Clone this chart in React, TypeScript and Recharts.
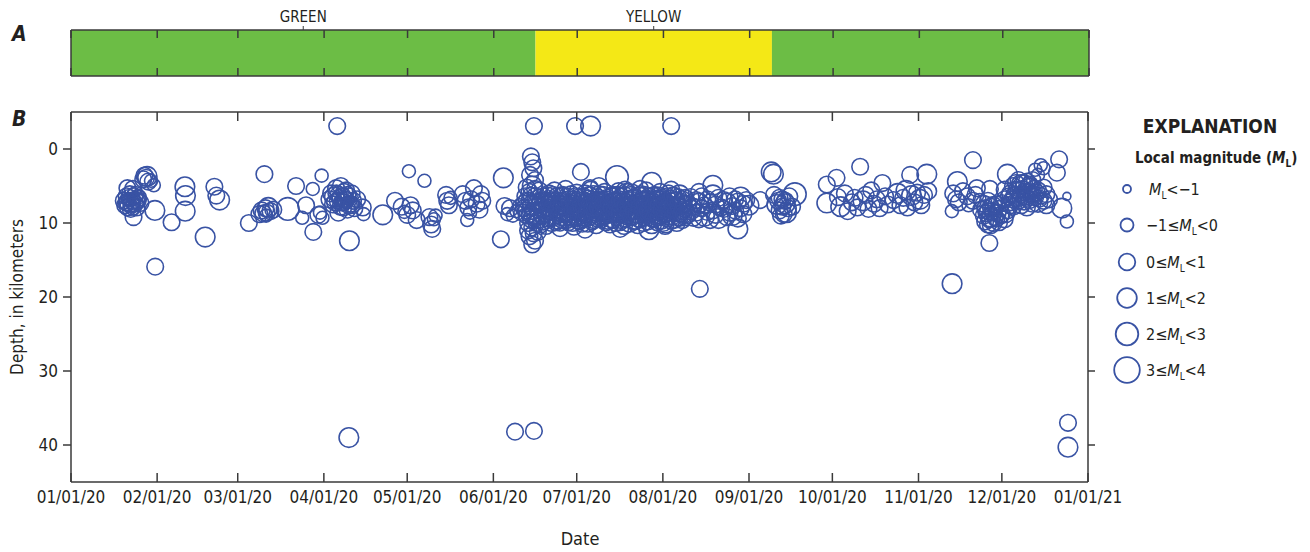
import React from 'react';
import { ScatterChart, Scatter, BarChart, Bar, XAxis, YAxis, ReferenceLine, LabelList } from 'recharts';

// x axis: day of year 2020 (0 = 01/01/20, 366 = 01/01/21)
const monthTicks = [0, 31, 60, 91, 121, 152, 182, 213, 244, 274, 305, 335, 366];
const monthLabels = ['01/01/20', '02/01/20', '03/01/20', '04/01/20', '05/01/20', '06/01/20', '07/01/20', '08/01/20', '09/01/20', '10/01/20', '11/01/20', '12/01/20', '01/01/21'];
const depthTicks = [0, 10, 20, 30, 40];

// volcano alert level periods
const alertLevels = ['GREEN', 'YELLOW', 'GREEN'];
const alertStart = [0, 167, 252];
const alertEnd = [167, 252, 366];
const alertLabelled = [true, true, false];

// magnitude classes for the explanation
const magLower = ['', '\u22121\u2264', '0\u2264', '1\u2264', '2\u2264', '3\u2264'];
const magUpper = ['<\u22121', '<0', '<1', '<2', '<3', '<4'];

// earthquakes: [day of year, depth km, magnitude class]
const eventsJanMar = [
  [19, 7.0, 2], [19.5, 7.6, 2], [20, 6.4, 2], [20.3, 5.3, 2], [20.5, 7.9, 2], [21, 7.2, 3], [21.2, 6.1, 2], [21.5, 8.1, 2],
  [22, 7.0, 2], [22.3, 5.4, 2], [22.5, 6.7, 1], [22.5, 9.2, 2], [23, 7.4, 2], [23.2, 6.2, 2], [23.6, 7.9, 2], [24, 7.0, 2],
  [24.5, 6.5, 1], [25, 7.3, 2], [26, 4.1, 2], [26.4, 3.6, 2], [27, 3.9, 2], [27.4, 3.7, 3], [27.8, 4.4, 2], [28.8, 4.3, 1],
  [20, 7.2, 2], [21, 6.6, 2], [21.8, 7.5, 2], [22.8, 6.4, 2], [23.5, 7.0, 2], [20.8, 6.9, 1], [22.2, 7.8, 2], [24.2, 6.6, 2],
  [29.8, 4.9, 1], [30.2, 8.3, 3], [30.3, 15.9, 2], [36.2, 9.9, 2], [41, 5.1, 3], [41.2, 6.3, 3], [41.1, 8.4, 3], [48.3, 11.9, 3],
  [51.6, 5.1, 2], [52.3, 6.3, 2], [53.5, 6.9, 3], [64, 10.0, 2], [67.8, 8.8, 2], [68.6, 8.3, 2], [69.2, 8.7, 2], [69.6, 3.4, 2],
  [70, 8.0, 2], [70.4, 8.6, 2], [71, 7.9, 3], [71.8, 8.4, 2], [72.8, 8.2, 2], [70.2, 9.0, 1], [78, 8.1, 4], [81, 5.0, 2],
  [83.2, 9.3, 1], [84.6, 7.6, 2], [87, 5.4, 1], [87.2, 11.2, 2], [89, 8.9, 2], [89.6, 8.6, 1], [90.5, 9.3, 1], [90.2, 3.6, 1],
];

const eventsAprMay = [
  [93, 6.8, 2], [93.6, 6.0, 2], [94.3, 7.5, 2], [94.8, 6.5, 3], [95.4, 5.3, 2], [96, 7.0, 2], [96.3, 6.2, 2], [97, 7.8, 2],
  [97.5, 6.6, 3], [98, 7.2, 2], [98.4, 5.8, 2], [99, 6.9, 2], [99.5, 8.2, 2], [100, 6.4, 2], [100.5, 7.4, 2], [101, 6.0, 2],
  [101.5, 7.0, 2], [102, 8.0, 2], [96.2, 8.6, 2], [97.1, 5.0, 2], [103, 6.8, 2], [95.8, -3.1, 2], [100.2, 12.4, 3],
  [95, 7.2, 2], [96.8, 6.6, 2], [98.5, 6.8, 2], [99.5, 6.2, 2], [98, 7.9, 2], [97.5, 7.2, 2], [100, 7.6, 2], [95.5, 6.0, 2],
  [101, 7.6, 2], [99, 5.6, 2],
  [105, 7.9, 2], [105.3, 8.8, 1], [112.2, 8.9, 3], [116.6, 7.0, 2], [121.6, 3.0, 1], [119, 7.8, 2], [120, 8.5, 1], [121, 8.9, 2],
  [122.2, 7.6, 2], [123, 8.3, 2], [124.4, 9.6, 2], [127.2, 4.3, 1], [129, 9.2, 2], [129.6, 10.2, 2], [130, 10.8, 2], [130.6, 9.5, 1],
  [131.2, 9.0, 1], [135, 6.2, 2], [135.4, 7.0, 2], [136, 7.6, 2], [136.6, 6.6, 1], [141, 6.1, 2], [142, 7.0, 2], [142.6, 9.6, 1],
  [143, 7.9, 2], [143.6, 8.6, 1], [144, 6.8, 2], [145, 5.3, 2], [146, 7.4, 2], [147, 8.2, 2], [148, 7.0, 2], [147.5, 6.1, 2],
];

const eventsJune = [
  [154.7, 12.2, 2], [155.6, 3.9, 3], [156, 7.7, 2], [157, 8.8, 1], [158, 8.0, 2], [159, 9.0, 1], [160.3, 8.4, 1], [161.5, 7.6, 1],
  [165.5, 1.0, 2], [166, 1.8, 2], [166.4, 2.6, 2], [165.2, 3.5, 2], [167, 4.2, 2], [166, 5.0, 3], [165, 5.8, 2], [167, 6.4, 2],
  [164, 7.0, 2], [166, 7.6, 3], [168, 8.2, 2], [165, 8.8, 2], [167, 9.4, 2], [164.5, 10.0, 2], [166, 10.6, 2], [168, 11.2, 2],
  [165, 11.8, 2], [167, 12.4, 2], [164, 9.0, 2], [163, 8.0, 2], [162.4, 8.6, 2], [169, 7.0, 2], [169.5, 9.0, 2], [169, 10.2, 2],
  [168.5, 5.6, 2], [163.5, 6.4, 2], [166.6, -3.1, 2],
  [163, 7.4, 2], [164, 8.3, 2], [165, 7.0, 2], [165.5, 9.5, 2], [166.5, 8.4, 2], [167.5, 7.2, 2], [167.5, 10.0, 2], [166.5, 11.4, 2],
  [164.5, 11.0, 2], [165.5, 6.3, 2], [167, 5.4, 2], [168, 9.6, 2], [168.5, 7.6, 2], [166, 9.0, 2], [164, 5.2, 2], [168.5, 6.6, 2],
  [166, 12.9, 2], [169.5, 8.2, 2],
];

const eventsJulAug = [
  [170, 6.4, 2], [170, 8.1, 2], [170, 9.6, 3], [171, 7.2, 2], [171, 8.8, 2], [171, 10.4, 2], [172, 6.0, 2], [172, 7.7, 3], [172, 9.2, 2],
  [173, 6.9, 2], [173, 8.4, 1], [173, 10.0, 2], [174, 5.6, 2], [174, 7.4, 2], [174, 9.0, 2], [175, 6.6, 3], [175, 8.2, 2], [175, 9.7, 2],
  [176, 7.0, 2], [176, 8.7, 2], [176, 10.2, 1], [177, 6.2, 2], [177, 7.9, 2], [177, 9.4, 3], [178, 5.4, 2], [178, 7.3, 2], [178, 8.9, 2],
  [179, 6.8, 2], [179, 8.5, 3], [179, 9.9, 2], [180, 6.1, 2], [180, 7.6, 2], [180, 9.3, 2], [181, 7.1, 1], [181, 8.9, 2], [181, 10.5, 2],
  [182, 5.9, 2], [182, 7.5, 2], [182, 9.1, 3], [183, 6.5, 2], [183, 8.2, 2], [183, 9.8, 2], [184, 7.2, 3], [184, 8.7, 2], [184, 10.1, 2],
  [185, 6.0, 2], [185, 7.8, 1], [185, 9.3, 2], [186, 6.7, 2], [186, 8.4, 2], [186, 9.9, 3], [187, 5.5, 2], [187, 7.2, 2], [187, 8.9, 2],
  [188, 6.3, 3], [188, 8.0, 2], [188, 9.6, 2], [189, 7.0, 2], [189, 8.6, 2], [189, 10.3, 2], [190, 6.1, 2], [190, 7.7, 3], [190, 9.2, 2],
  [191, 6.8, 2], [191, 8.3, 2], [191, 9.8, 1], [192, 5.8, 2], [192, 7.4, 2], [192, 9.0, 2], [193, 6.6, 2], [193, 8.1, 3], [193, 9.7, 2],
  [194, 7.1, 2], [194, 8.8, 2], [194, 10.2, 2], [195, 6.2, 2], [195, 7.9, 2], [195, 9.4, 3], [196, 6.9, 2], [196, 8.5, 2], [196, 10.0, 2],
  [197, 5.7, 2], [197, 7.3, 3], [197, 8.8, 2], [198, 6.4, 2], [198, 8.0, 2], [198, 9.6, 2], [199, 7.0, 2], [199, 8.7, 1], [199, 10.4, 2],
  [200, 6.0, 3], [200, 7.6, 2], [200, 9.1, 2], [201, 6.7, 2], [201, 8.3, 2], [201, 9.9, 3], [202, 5.9, 2], [202, 7.5, 2], [202, 9.2, 2],
  [203, 6.5, 2], [203, 8.2, 3], [203, 9.7, 2], [204, 7.2, 2], [204, 8.9, 2], [204, 10.3, 2], [205, 6.1, 2], [205, 7.7, 2], [205, 9.3, 3],
  [206, 6.8, 2], [206, 8.4, 2], [206, 10.0, 2], [207, 5.6, 2], [207, 7.2, 3], [207, 8.8, 2], [208, 6.4, 2], [208, 8.0, 2], [208, 9.5, 1],
  [209, 7.0, 2], [209, 8.6, 2], [209, 10.1, 3], [210, 6.2, 2], [210, 7.8, 2], [210, 9.4, 2], [211, 6.9, 3], [211, 8.5, 2], [211, 9.9, 2],
  [212, 5.8, 2], [212, 7.4, 2], [212, 9.0, 2], [213, 6.6, 2], [213, 8.2, 2], [213, 9.8, 3], [214, 7.1, 2], [214, 8.7, 2], [214, 10.2, 2],
  [215, 6.0, 2], [215, 7.6, 3], [215, 9.1, 2], [216, 6.7, 2], [216, 8.3, 2], [216, 9.7, 2], [217, 6.3, 2], [217, 7.9, 2], [217, 9.4, 3],
  [218, 6.9, 2], [218, 8.5, 2], [218, 10.0, 2], [219, 6.2, 3], [219, 7.8, 2], [219, 9.3, 2], [220, 6.8, 2], [220, 8.4, 2], [220, 9.6, 2],
  [221, 6.6, 2], [221, 8.1, 2], [221, 9.2, 2],
  [181.4, -3.1, 2], [187, -3.1, 3], [216, -3.1, 2], [183.5, 3.1, 2], [196.5, 3.8, 4], [209, 4.5, 3], [216, 5.5, 2], [186.8, 5.3, 2],
  [190, 5.0, 2], [199.4, 5.5, 2], [204.8, 5.4, 2], [176, 10.7, 2], [185, 10.9, 2], [197.6, 10.8, 2], [208, 10.9, 3], [213.8, 10.4, 2],
];

// the densest part of the swarm, between the daily rows above
const eventsSwarmDense = [
  [170.5, 7.0, 2], [170.5, 8.8, 2], [171.5, 6.3, 2], [171.5, 7.9, 2], [171.5, 9.4, 2], [172.5, 7.1, 2], [172.5, 8.5, 2], [173.5, 6.2, 2],
  [173.5, 7.6, 2], [173.5, 9.3, 2], [174.5, 6.9, 2], [174.5, 8.3, 2], [174.5, 9.9, 2], [175.5, 7.4, 2], [175.5, 8.9, 2], [176.5, 6.3, 2],
  [176.5, 7.8, 2], [176.5, 9.2, 2], [177.5, 7.0, 2], [177.5, 8.6, 2], [178.5, 6.4, 2], [178.5, 8.1, 2], [178.5, 9.6, 2], [179.5, 7.3, 2],
  [179.5, 9.1, 2], [180.5, 6.8, 2], [180.5, 8.3, 2], [180.5, 10.0, 2], [181.5, 6.4, 2], [181.5, 8.0, 2], [182.5, 6.9, 2], [182.5, 8.6, 2],
  [182.5, 9.7, 2], [183.5, 7.4, 2], [183.5, 9.0, 2], [184.5, 6.4, 2], [184.5, 7.9, 2], [184.5, 9.5, 2], [185.5, 7.1, 2], [185.5, 8.7, 2],
  [186.5, 6.2, 2], [186.5, 7.6, 2], [186.5, 9.2, 2], [187.5, 6.8, 2], [187.5, 8.3, 2], [187.5, 9.8, 2], [188.5, 7.2, 2], [188.5, 8.8, 2],
  [189.5, 6.5, 2], [189.5, 7.9, 2], [189.5, 9.4, 2], [190.5, 7.0, 2], [190.5, 8.6, 2], [191.5, 6.2, 2], [191.5, 7.6, 2], [191.5, 9.2, 2],
  [192.5, 6.8, 2], [192.5, 8.3, 2], [192.5, 9.9, 2], [193.5, 7.3, 2], [193.5, 8.9, 2], [194.5, 6.4, 2], [194.5, 7.9, 2], [194.5, 9.5, 2],
  [195.5, 7.0, 2], [195.5, 8.6, 2], [196.5, 6.2, 2], [196.5, 7.6, 2], [196.5, 9.2, 2], [197.5, 6.8, 2], [197.5, 8.3, 2], [197.5, 9.9, 2],
  [198.5, 7.2, 2], [198.5, 8.9, 2], [199.5, 6.3, 2], [199.5, 7.8, 2], [199.5, 9.4, 2], [200.5, 6.9, 2], [200.5, 8.5, 2], [201.5, 6.2, 2],
  [201.5, 7.5, 2], [201.5, 9.1, 2], [202.5, 6.7, 2], [202.5, 8.3, 2], [202.5, 9.8, 2], [203.5, 7.2, 2], [203.5, 8.8, 2], [204.5, 6.3, 2],
  [204.5, 7.9, 2], [204.5, 9.5, 2], [205.5, 6.9, 2], [205.5, 8.6, 2], [206.5, 6.2, 2], [206.5, 7.6, 2], [206.5, 9.2, 2], [207.5, 6.7, 2],
  [207.5, 8.3, 2], [207.5, 9.8, 2], [208.5, 7.2, 2], [208.5, 8.8, 2], [209.5, 6.3, 2], [209.5, 7.9, 2], [209.5, 9.5, 2], [210.5, 6.9, 2],
  [210.5, 8.5, 2], [211.5, 6.3, 2], [211.5, 7.6, 2], [211.5, 9.2, 2], [212.5, 6.8, 2], [212.5, 8.3, 2], [212.5, 9.7, 2], [213.5, 7.3, 2],
  [213.5, 8.9, 2], [214.5, 6.4, 2], [214.5, 7.9, 2], [214.5, 9.4, 2], [215.5, 7.0, 2], [215.5, 8.6, 2], [216.5, 6.3, 2], [216.5, 7.6, 2],
  [216.5, 9.1, 2], [217.5, 7.0, 2], [217.5, 8.7, 2], [218.5, 6.5, 2], [218.5, 7.6, 2], [218.5, 9.2, 2], [219.5, 7.1, 2], [219.5, 8.7, 2],
  [220.5, 7.4, 2], [220.5, 8.9, 2],
];

const eventsLateAug = [
  [222, 7.4, 2], [222, 8.9, 2], [223, 6.5, 2], [223, 8.2, 3], [224, 7.8, 2], [224, 9.3, 2], [225, 6.9, 2], [225, 8.6, 2],
  [226, 7.3, 3], [226, 9.5, 2], [227, 6.4, 2], [227, 8.0, 2], [228, 7.6, 2], [228, 9.1, 3], [229, 6.8, 2], [229, 8.5, 2],
  [230, 7.2, 2], [230, 9.6, 2], [231, 6.2, 3], [231, 8.3, 2], [232, 7.5, 2], [232, 8.9, 2], [233, 6.6, 2], [233, 9.4, 3],
  [234, 7.9, 2], [235, 6.9, 2], [235, 8.1, 2], [236, 7.3, 3], [236, 9.2, 2], [237, 6.4, 2], [237, 8.6, 2], [238, 7.7, 2],
  [238, 9.0, 3], [239, 6.8, 2], [239, 8.3, 2], [240, 7.1, 2], [240, 9.4, 2], [241, 6.5, 3], [241, 8.0, 2], [242, 7.4, 2],
  [242, 8.8, 2], [243, 6.9, 2], [244, 7.6, 3], [231, 4.9, 3], [226, 5.8, 2], [240, 10.8, 3], [226.3, 18.9, 2],
];

const eventsSepOct = [
  [248, 6.9, 2], [252, 3.1, 3], [252.8, 3.4, 3], [253, 6.2, 2], [254, 7.5, 3], [255, 8.3, 2], [256, 6.8, 2], [256.5, 8.8, 2],
  [257, 7.4, 3], [258, 8.0, 2], [258.5, 6.4, 2], [259.5, 7.8, 2], [260.5, 6.1, 4], [255.5, 9.0, 2], [257.5, 8.6, 3],
  [254.5, 7.0, 2], [256, 7.8, 2], [255, 6.6, 2], [257, 7.0, 2],
  [272, 4.8, 2], [272, 7.3, 3], [275.5, 3.9, 2], [276, 6.5, 2], [277, 7.8, 3], [278.5, 6.0, 2], [279.5, 8.4, 2], [281, 7.2, 2],
  [282, 6.6, 2], [283, 7.9, 2], [284, 2.4, 2], [285, 7.0, 3], [286, 6.2, 2], [287, 8.1, 2], [288, 5.6, 2], [289, 7.4, 2],
  [290, 6.8, 2], [291, 8.0, 2], [292, 4.6, 2], [293, 6.4, 2], [294, 7.5, 2], [296, 6.9, 2], [297.5, 6.0, 3], [298.5, 7.6, 2],
  [299.5, 6.6, 2], [300.5, 5.6, 3], [301, 7.9, 2], [302, 3.5, 2], [302.5, 6.3, 3], [303.5, 7.2, 2], [304.5, 5.9, 2], [305.5, 6.8, 3],
  [306, 7.6, 2], [307, 6.2, 2], [308, 3.4, 3], [308.5, 5.7, 2],
];

const eventsNovDec = [
  [317.1, 18.2, 3], [317, 8.4, 1], [319, 4.4, 3], [317.5, 6.0, 2], [318.5, 6.8, 2], [319.5, 7.2, 2], [321, 5.7, 2], [322.5, 6.4, 2],
  [323, 7.6, 1], [324.6, 7.0, 2], [324.6, 1.5, 2], [325.5, 6.2, 2], [326, 5.3, 2], [327, 6.9, 1], [330.7, 5.4, 2],
  [327.5, 8.2, 2], [328.5, 9.0, 2], [328.5, 7.4, 2], [329, 9.8, 2], [330, 8.4, 2], [330, 7.0, 2], [330, 10.2, 2], [331, 9.2, 3],
  [331, 7.8, 2], [332, 8.6, 2], [332, 10.0, 2], [333, 9.4, 2], [333, 7.5, 2], [334, 8.1, 2], [334, 9.9, 2], [335, 8.8, 2],
  [335, 7.3, 2], [336, 9.5, 2], [337, 8.3, 2], [338, 7.6, 2], [330.5, 12.7, 2],
  [329.5, 8.7, 2], [330.5, 9.5, 2], [331.5, 8.4, 2], [332.5, 9.2, 2], [333.5, 8.6, 2], [331, 10.3, 2], [329, 8.0, 2], [334.5, 9.0, 2],
  [332, 7.6, 2], [336.5, 8.8, 2],
  [336, 6.8, 2], [336, 5.5, 2], [337, 3.4, 3], [338, 7.2, 2], [338, 6.0, 2], [339, 5.0, 2], [339, 7.8, 2], [340, 6.4, 3],
  [340, 4.6, 2], [341, 7.0, 2], [341, 5.6, 2], [342, 6.2, 2], [342, 7.6, 2], [342, 4.8, 3], [343, 5.8, 2], [343, 7.1, 2],
  [344, 6.6, 2], [344, 4.4, 2], [344, 7.9, 2], [345, 5.3, 3], [345, 6.9, 2], [346, 7.4, 2], [346, 6.0, 2], [346, 4.2, 2],
  [347, 6.5, 2], [347, 2.8, 1], [348, 5.6, 2], [348, 7.2, 3], [348, 3.5, 1], [349, 6.3, 2], [349, 2.2, 1], [350, 7.0, 2],
  [339.5, 6.2, 2], [340.5, 5.5, 2], [341.5, 6.6, 2], [342.5, 5.4, 2], [343.5, 6.4, 2], [344.5, 5.8, 2], [345.5, 6.2, 2], [346.5, 5.4, 2],
  [347.5, 5.9, 2], [343, 4.6, 2], [341, 4.2, 2], [345, 4.8, 2], [348.5, 6.7, 2], [337.5, 6.4, 2], [339, 6.8, 2],
  [350, 5.2, 2], [350, 2.6, 1], [351, 6.1, 2], [351, 7.6, 2], [352, 6.8, 2], [354.8, 3.2, 2], [355.6, 1.4, 2], [356.6, 8.0, 3],
  [358.4, 6.4, 0], [358.4, 9.8, 1],
];

const deepEvents = [
  [100, 39.0, 3], [159.8, 38.2, 2], [166.6, 38.1, 2], [358.8, 37.0, 2], [358.8, 40.3, 3],
];

const events = [
  ...eventsJanMar, ...eventsAprMay, ...eventsJune, ...eventsJulAug, ...eventsSwarmDense, ...eventsLateAug,
  ...eventsSepOct, ...eventsNovDec, ...deepEvents,
].map(([day, depth, mag]) => ({ day, depth, mag }));

const alertRow = [
  alertLevels.reduce((row: any, _l, i) => ({ ...row, [`seg${i}`]: alertEnd[i] - alertStart[i] }), { row: 'alert' }),
];

// styles
const FONT = "'Liberation Sans Narrow', 'DejaVu Sans Condensed', 'Open Sans', sans-serif";
const INK = '#231f20';
const AXIS = '#3a3a3a';
const QUAKE = '#3953a4';
const levelColor: Record<string, string> = { GREEN: '#6cbd45', YELLOW: '#f4e816' };
const magRadius = [4, 6.5, 8.3, 9.8, 11.3, 12.8];
const legendY = [189, 225, 262, 298, 334, 370];
// plot frame: x 71..1088 ; axes take 1px, so margins are one less
const M_LEFT = 70;
const M_RIGHT = 1310 - 1088 - 1;

const axisLine = { stroke: AXIS, strokeWidth: 1.5 };

const InTick = ({ x, y, dir, len }: any) => (
  <line x1={x} x2={x} y1={y} y2={y + dir * len} stroke={AXIS} strokeWidth={1.5} />
);

const DateTick = ({ x, y, payload }: any) => (
  <g>
    <line x1={x} x2={x} y1={y} y2={y - 9} stroke={AXIS} strokeWidth={1.5} />
    <text x={x} y={y + 21} textAnchor="middle" fontSize={17} fill={INK}>
      {monthLabels[monthTicks.indexOf(payload.value)]}
    </text>
  </g>
);

const QuakeCircle = (props: any) => {
  const { cx, cy, payload } = props;
  if (cx == null || cy == null) return <g />;
  return <circle cx={cx} cy={cy} r={magRadius[payload.mag]} fill="none" stroke={QUAKE} strokeWidth={1.6} />;
};

const LevelLabel = ({ text, ...p }: any) => {
  const vb = p.viewBox || p;
  const cx = vb.x + vb.width / 2;
  return (
    <g>
      <line x1={cx} x2={cx} y1={vb.y - 4} y2={vb.y} stroke={AXIS} strokeWidth={1} />
      <text x={cx} y={vb.y - 8} textAnchor="middle" fontSize={15} fill={INK}>{text}</text>
    </g>
  );
};

const Sub = ({ children }: any) => (
  <>
    <tspan fontStyle="italic">M</tspan>
    <tspan fontSize={10} dy={4}>L</tspan>
    <tspan dy={-4}>{children}</tspan>
  </>
);

export default function App() {
  return (
    <div style={{ position: 'absolute', left: 0, top: 0, width: 1310, height: 552, background: '#fff', fontFamily: FONT }}>
      <div style={{ position: 'absolute', left: 0, top: 0 }}>
        <BarChart
          width={1310}
          height={90}
          data={alertRow}
          layout="vertical"
          barCategoryGap={0}
          margin={{ top: 29, right: M_RIGHT, bottom: 13, left: M_LEFT }}
        >
          {alertLevels.map((level, i) => (
            <Bar key={i} dataKey={`seg${i}`} stackId="a" fill={levelColor[level]} isAnimationActive={false}>
              {alertLabelled[i] && <LabelList content={(p: any) => <LevelLabel {...p} text={level} />} />}
            </Bar>
          ))}
          <XAxis type="number" domain={[0, 366]} ticks={monthTicks} interval={0} height={1} tickSize={0} tickMargin={0}
            axisLine={axisLine} tick={(p: any) => <InTick {...p} dir={-1} len={8} />} allowDataOverflow />
          <XAxis xAxisId="top" orientation="top" type="number" domain={[0, 366]} ticks={monthTicks} interval={0} height={1}
            tickSize={0} tickMargin={0} axisLine={axisLine} tick={(p: any) => <InTick {...p} dir={1} len={8} />} allowDataOverflow />
          <YAxis type="category" dataKey="row" width={1} tick={false} tickLine={false} axisLine={axisLine} />
          <ReferenceLine x={366} stroke={AXIS} strokeWidth={1.5} />
        </BarChart>
      </div>

      <div style={{ position: 'absolute', left: 0, top: 0 }}>
        <ScatterChart width={1310} height={552} margin={{ top: 111, right: M_RIGHT, bottom: 69, left: M_LEFT }}>
          <XAxis type="number" dataKey="day" domain={[0, 366]} ticks={monthTicks} interval={0} height={1} tickSize={0} tickMargin={0}
            axisLine={axisLine} tick={(p: any) => <DateTick {...p} />} allowDataOverflow />
          <XAxis xAxisId="top" orientation="top" type="number" dataKey="day" domain={[0, 366]} ticks={monthTicks} interval={0}
            height={1} tickSize={0} tickMargin={0} axisLine={axisLine} tick={(p: any) => <InTick {...p} dir={1} len={9} />} allowDataOverflow />
          <YAxis type="number" dataKey="depth" domain={[-5, 45]} reversed ticks={depthTicks} interval={0} width={1} tickSize={8}
            tickMargin={5} axisLine={axisLine} tickLine={{ stroke: AXIS, strokeWidth: 1.5 }}
            tick={{ fontSize: 17, fill: INK }} allowDataOverflow />
          <YAxis yAxisId="right" orientation="right" type="number" dataKey="depth" domain={[-5, 45]} reversed ticks={depthTicks}
            interval={0} width={1} tickSize={7} axisLine={axisLine} tickLine={{ stroke: AXIS, strokeWidth: 1.5 }}
            tick={() => <g />} allowDataOverflow />
          <Scatter data={events} shape={QuakeCircle} isAnimationActive={false} />
          <Scatter data={[]} xAxisId="top" yAxisId="right" isAnimationActive={false} />
        </ScatterChart>
      </div>

      <svg width={1310} height={552} style={{ position: 'absolute', left: 0, top: 0, pointerEvents: 'none' }}>
        <text x={12} y={41} fontSize={21} fontWeight="bold" fontStyle="italic" fill={INK}>A</text>
        <text x={12} y={126} fontSize={21} fontWeight="bold" fontStyle="italic" fill={INK}>B</text>
        <text transform="translate(23,297) rotate(-90)" textAnchor="middle" fontSize={17} fill={INK}>Depth, in kilometers</text>
        <text x={580} y={545} textAnchor="middle" fontSize={18} fill={INK}>Date</text>

        <text x={1210} y={133} textAnchor="middle" fontSize={19} fontWeight="bold" fill={INK}>EXPLANATION</text>
        <text x={1135} y={163} fontSize={15} fontWeight="bold" fill={INK}>
          Local magnitude (<tspan fontStyle="italic">M</tspan><tspan fontSize={10} dy={4}>L</tspan><tspan dy={-4}>)</tspan>
        </text>
        {magUpper.map((upper, i) => (
          <g key={i}>
            <circle cx={1127} cy={legendY[i]} r={magRadius[i]} fill="none" stroke={QUAKE} strokeWidth={1.8} />
            <text x={i === 0 ? 1149 : 1146} y={legendY[i] + 6} fontSize={16} fill={INK}>
              {magLower[i]}<Sub>{upper}</Sub>
            </text>
          </g>
        ))}
      </svg>
    </div>
  );
}
